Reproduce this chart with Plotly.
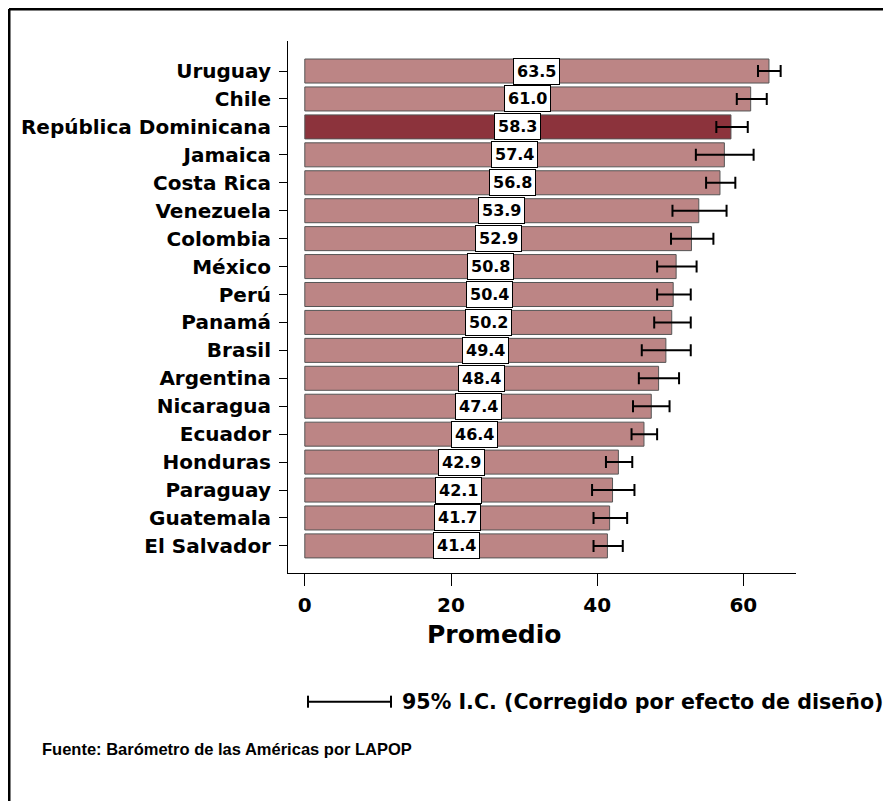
# promedio por pais con intervalos de confianza (LAPOP)

import plotly.graph_objects as go

countries = ["Uruguay", "Chile", "República Dominicana", "Jamaica", "Costa Rica",
             "Venezuela", "Colombia", "México", "Perú", "Panamá", "Brasil",
             "Argentina", "Nicaragua", "Ecuador", "Honduras", "Paraguay",
             "Guatemala", "El Salvador"]
means = [63.5, 61.0, 58.3, 57.4, 56.8, 53.9, 52.9, 50.8, 50.4, 50.2, 49.4,
         48.4, 47.4, 46.4, 42.9, 42.1, 41.7, 41.4]
ci_low = [62.0, 59.1, 56.3, 53.5, 54.9, 50.3, 50.1, 48.2, 48.2, 47.8, 46.1,
          45.7, 44.9, 44.7, 41.2, 39.3, 39.5, 39.5]
ci_high = [65.1, 63.2, 60.6, 61.4, 58.9, 57.7, 55.9, 53.6, 52.8, 52.8, 52.8,
           51.2, 49.9, 48.2, 44.8, 45.1, 44.1, 43.5]
highlight = "República Dominicana"
x_ticks = [0, 20, 40, 60]

FONT = "DejaVu Sans, Liberation Sans, Arial"
SANS = "Liberation Sans, Arial"

colors = ["#8C333C" if c == highlight else "#BC8585" for c in countries]
err_plus = [h - m for h, m in zip(ci_high, means)]
err_minus = [m - l for m, l in zip(means, ci_low)]

fig = go.Figure()
fig.add_trace(go.Bar(
    x=means, y=countries, orientation="h", width=0.86,
    marker=dict(color=colors, line=dict(color="#555555", width=1)),
    error_x=dict(type="data", symmetric=False, array=err_plus, arrayminus=err_minus,
                 color="black", thickness=2, width=6),
    showlegend=False, hoverinfo="x+y",
))

# value labels in white boxes at the middle of each bar
for c, m in zip(countries, means):
    fig.add_annotation(x=m / 2, y=c, text=f"{m:.1f}", showarrow=False,
                       bgcolor="white", bordercolor="black", borderwidth=1, borderpad=3,
                       font=dict(family=FONT, size=16, color="black", weight="bold"))

fig.update_yaxes(type="category", categoryorder="array", categoryarray=countries[::-1],
                 range=[-0.97, 18.075], showline=True, linecolor="black", linewidth=1,
                 ticks="outside", ticklen=8, tickcolor="black", showgrid=False,
                 ticklabelstandoff=4,
                 tickfont=dict(family=FONT, size=20, color="black", weight="bold"))
fig.update_xaxes(range=[-2.3, 67.2], tickvals=x_ticks, showline=True, linecolor="black",
                 linewidth=1, ticks="outside", ticklen=12, tickcolor="black",
                 showgrid=False, zeroline=False, ticklabelstandoff=2,
                 tickfont=dict(family=FONT, size=20, color="black", weight="bold"))

fig.add_annotation(xref="paper", yref="paper", x=0.405, y=-0.1165, text="Promedio",
                   showarrow=False, xanchor="center", yanchor="middle",
                   font=dict(family=FONT, size=25, color="black", weight="bold"))

# legend for CI bar
ly = -0.2419
fig.add_shape(type="line", xref="paper", yref="paper", x0=0.0394, x1=0.2028, y0=ly, y1=ly,
              line=dict(color="black", width=2))
for xx in [0.0394, 0.2028]:
    fig.add_shape(type="line", xref="paper", yref="paper", x0=xx, x1=xx,
                  y0=ly - 0.0113, y1=ly + 0.0113, line=dict(color="black", width=2))
fig.add_annotation(xref="paper", yref="paper", x=0.2204, y=ly,
                   text="95% I.C. (Corregido por efecto de diseño)", showarrow=False,
                   xanchor="left", yanchor="middle",
                   font=dict(family=FONT, size=20.6, color="black", weight="bold"))
fig.add_annotation(xref="paper", yref="paper", x=-0.4882, y=-0.3308,
                   text="Fuente: Barómetro de las Américas por LAPOP", showarrow=False,
                   xanchor="left", yanchor="middle",
                   font=dict(family=SANS, size=16.5, color="black", weight="bold"))

# outer frame (top and left edges visible)
fig.add_shape(type="line", xref="paper", yref="paper", x0=-0.5492, x1=1.3,
              y0=1.0602, y1=1.0602, line=dict(color="black", width=3))
fig.add_shape(type="line", xref="paper", yref="paper", x0=-0.5492, x1=-0.5492,
              y0=1.0602, y1=-0.6, line=dict(color="black", width=3))

fig.update_layout(width=891, height=801, margin=dict(l=280, r=103, t=33, b=236),
                  plot_bgcolor="white", paper_bgcolor="white")

fig.write_html("out.html")
